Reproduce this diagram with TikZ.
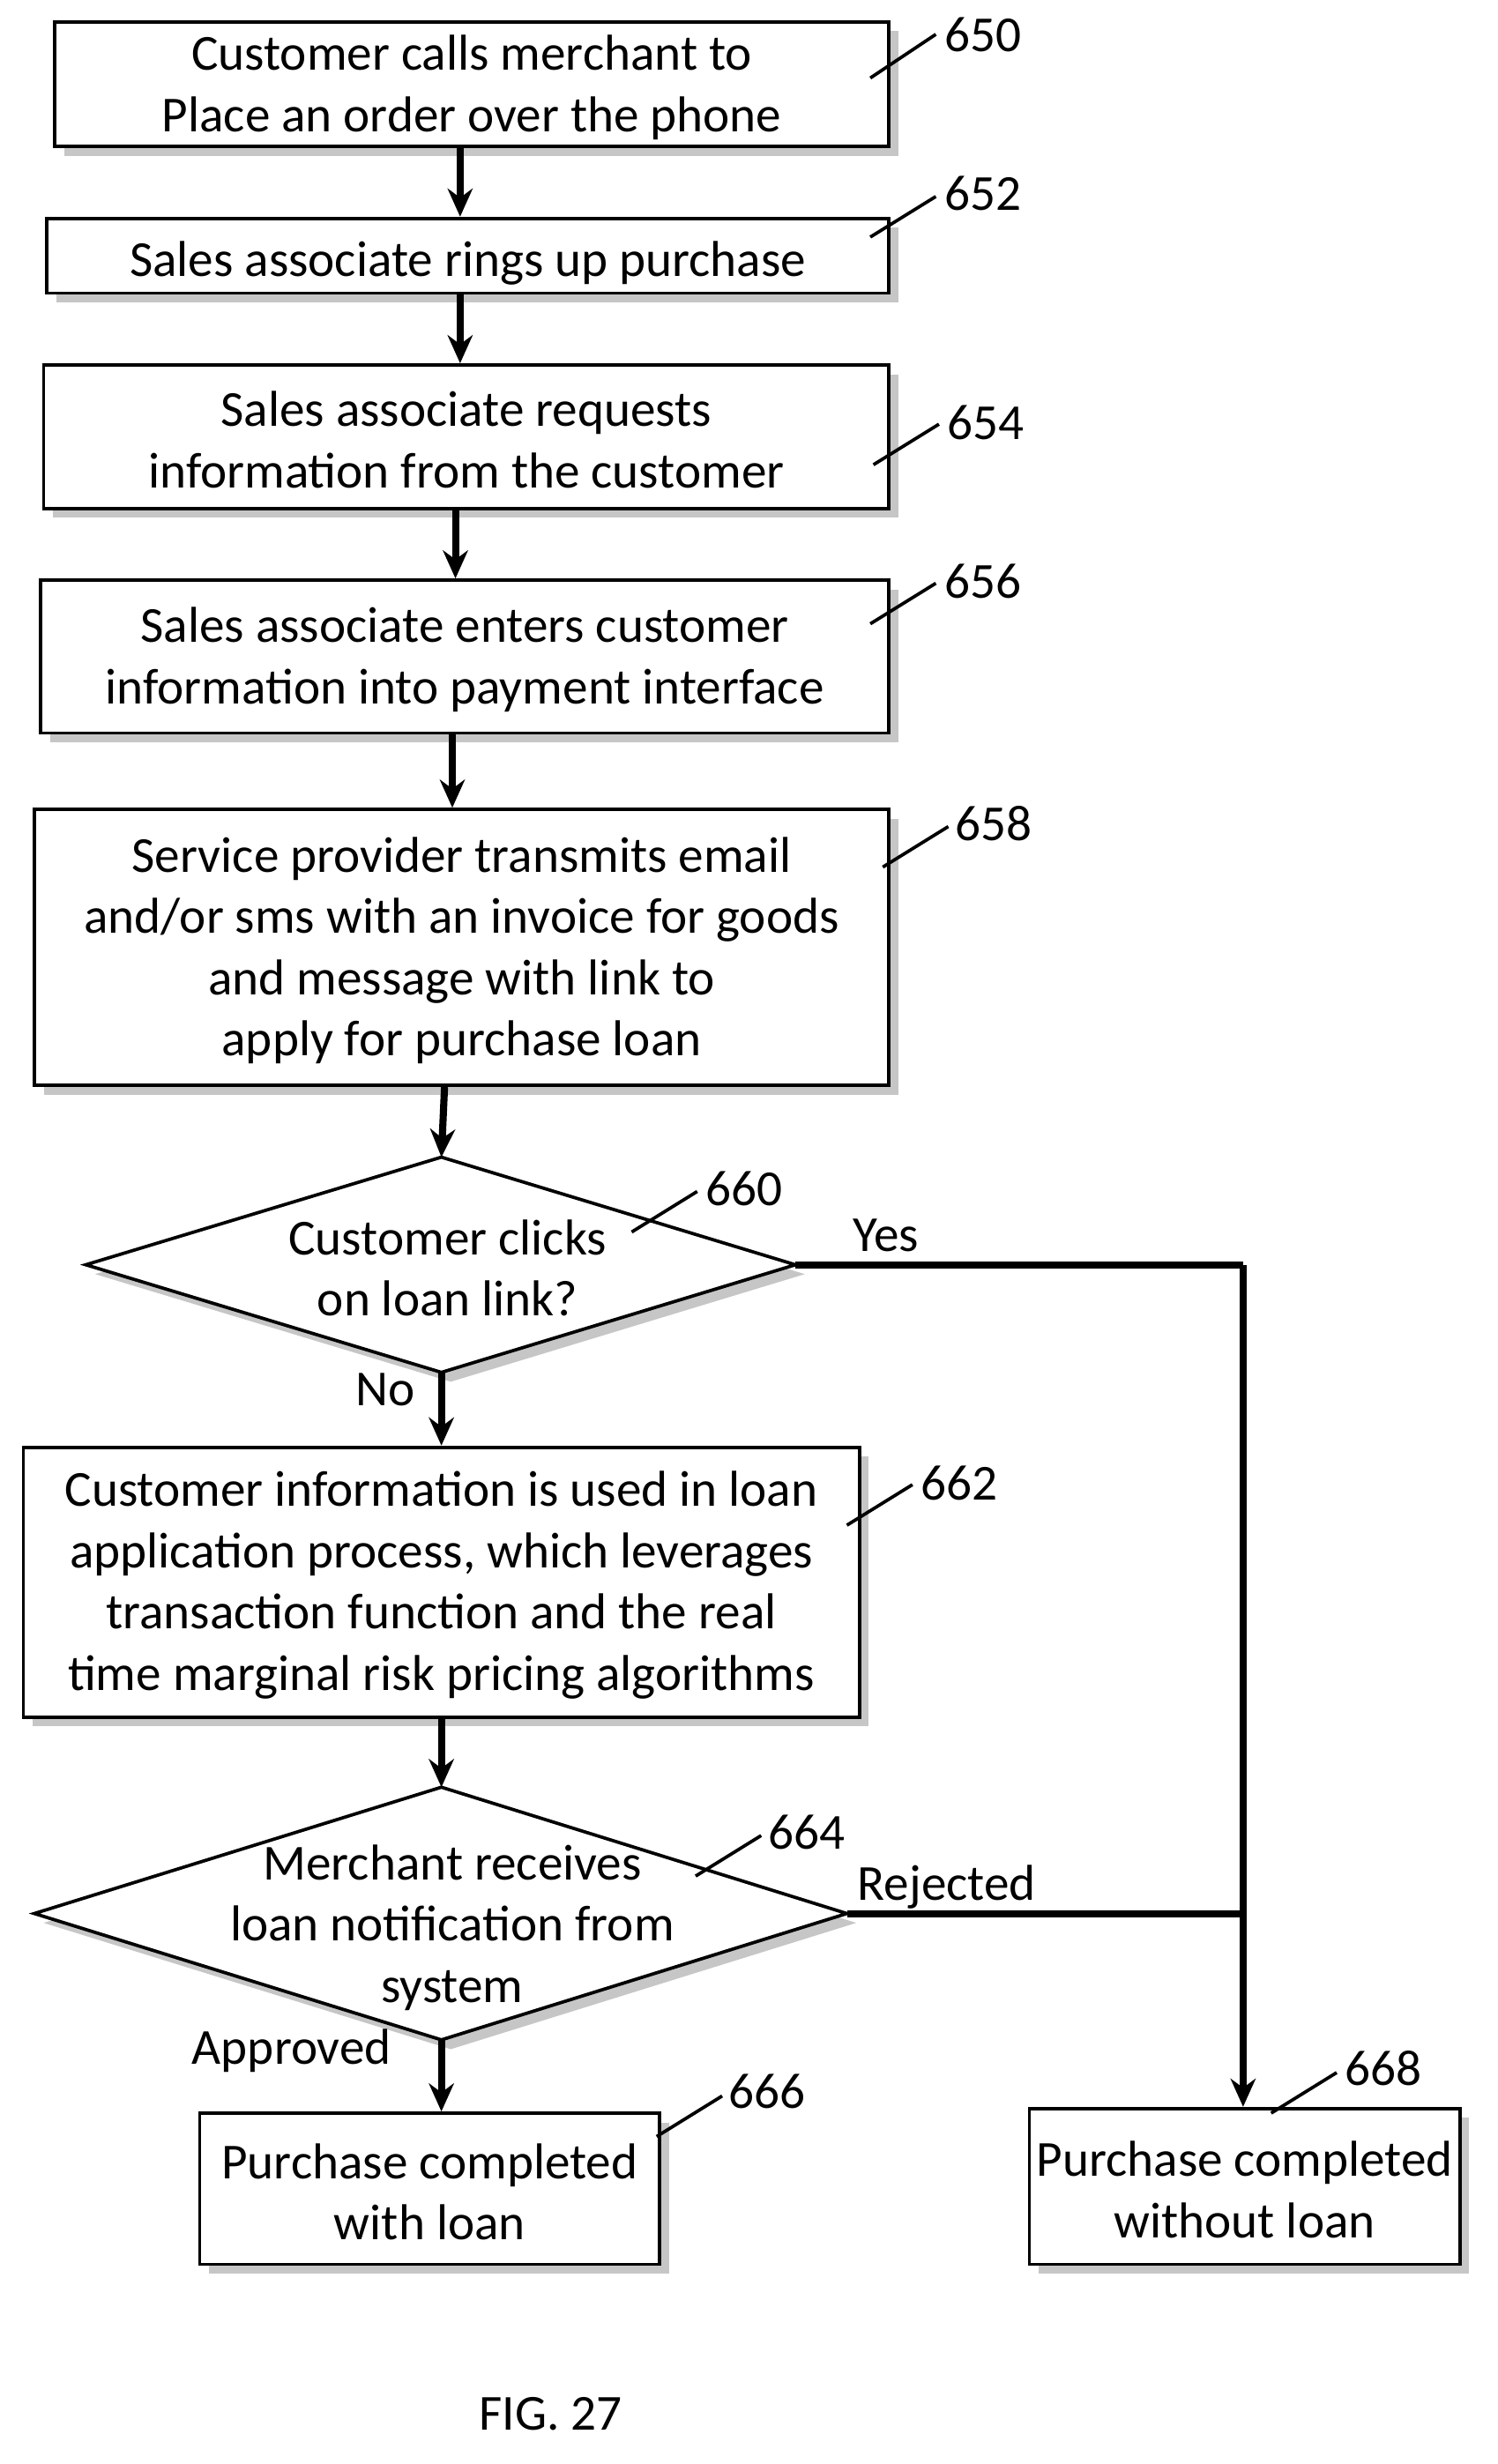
\documentclass[tikz,border=0pt]{standalone}
\usepackage{fontspec}
\setmainfont{Carlito}
\usetikzlibrary{fit,shadows,arrows.meta}
\begin{document}
\begin{tikzpicture}[x=0.05cm,y=-0.05cm,
  font=\fontsize{46}{56}\selectfont,
  box/.style={draw,line width=3pt,inner sep=0pt,fill=white,
    drop shadow={shadow xshift=0.3cm,shadow yshift=-0.3cm,fill=gray!45,opacity=1}},
  txt/.style={align=center},
  ln/.style={line width=6.5pt},
  arr/.style={ln,-{Stealth[length=0.9cm,width=0.8cm]}},
  tick/.style={line width=3pt},
  lab/.style={anchor=west}]
\useasboundingbox (0,0) rectangle (960,1580);
\node[box,fit={(35,14)(570,94)}] (b650) {};
\node[txt] at ([yshift=-0.1cm]b650.center) {Customer calls merchant to\\Place an order over the phone};
\node[box,fit={(30,140)(570,188)}] (b652) {};
\node[txt] at ([yshift=-0.25cm]b652.center) {Sales associate rings up purchase};
\node[box,fit={(28,234)(570,326)}] (b654) {};
\node[txt] at ([yshift=-0.1cm]b654.center) {Sales associate requests\\information from the customer};
\node[box,fit={(26,372)(570,470)}] (b656) {};
\node[txt] at ([yshift=-0.1cm]b656.center) {Sales associate enters customer\\information into payment interface};
\node[box,fit={(22,519)(570,696)}] (b658) {};
\node[txt] at ([yshift=-0.1cm]b658.center) {Service provider transmits email\\and/or sms with an invoice for goods\\and message with link to\\apply for purchase loan};
\coordinate (d1t) at (283,742); \coordinate (d1b) at (283,880);
\coordinate (d1l) at (55,811); \coordinate (d1r) at (510,811);
\fill[gray!45] ([shift={(6,6)}]d1t) -- ([shift={(6,6)}]d1r) -- ([shift={(6,6)}]d1b) -- ([shift={(6,6)}]d1l) -- cycle;
\draw[line width=3pt,fill=white] (d1t) -- (d1r) -- (d1b) -- (d1l) -- cycle;
\node[txt] (t660) at (287,813) {Customer clicks\\on loan link?};
\node[box,fit={(15,928)(551,1101)}] (b662) {};
\node[txt] at ([yshift=-0.1cm]b662.center) {Customer information is used in loan\\application process, which leverages\\transaction function and the real\\time marginal risk pricing algorithms};
\coordinate (d2t) at (283,1146); \coordinate (d2b) at (283,1308);
\coordinate (d2l) at (22,1227); \coordinate (d2r) at (543,1227);
\fill[gray!45] ([shift={(6,6)}]d2t) -- ([shift={(6,6)}]d2r) -- ([shift={(6,6)}]d2b) -- ([shift={(6,6)}]d2l) -- cycle;
\draw[line width=3pt,fill=white] (d2t) -- (d2r) -- (d2b) -- (d2l) -- cycle;
\node[txt] (t664) at (290,1236) {Merchant receives\\loan notification from\\system};
\node[box,fit={(128,1355)(423,1452)}] (b666) {};
\node[txt] at ([yshift=-0.1cm]b666.center) {Purchase completed\\with loan};
\node[box,fit={(660,1352)(936,1452)}] (b668) {};
\node[txt] at ([yshift=-0.1cm]b668.center) {Purchase completed\\without loan};
\coordinate (jr) at (797,811); \coordinate (jr2) at (797,1227);
% arrows
\draw[arr] (b650.south -| 295,0) -- (b652.north -| 295,0);
\draw[arr] (b652.south -| 295,0) -- (b654.north -| 295,0);
\draw[arr] (b654.south -| 292,0) -- (b656.north -| 292,0);
\draw[arr] (b656.south -| 290,0) -- (b658.north -| 290,0);
\draw[arr] (b658.south -| 285,0) -- (d1t);
\draw[arr] (d1b) -- (b662.north -| d1b);
\draw[arr] (b662.south -| d2t) -- (d2t);
\draw[arr] (d2b) -- (b666.north -| d2b);
\draw[ln] (d1r) -- (jr);
\draw[ln] (d2r) -- (jr2);
\draw[arr] (jr) -- (b668.north -| jr);
% labels
\node at (568,792) {Yes};
\node at (247,891) {No};
\node at (607,1210) {Rejected};
\node at (187,1315) {Approved};
\node at (353,1548) {FIG. 27};
% reference numerals
\draw[tick] (558,50) -- (600,22); \node[lab] at (603,22) {650};
\draw[tick] (558,152) -- (600,126); \node[lab] at (603,124) {652};
\draw[tick] (560,298) -- (602,272); \node[lab] at (605,271) {654};
\draw[tick] (558,400) -- (600,374); \node[lab] at (603,373) {656};
\draw[tick] (566,556) -- (608,530); \node[lab] at (610,528) {658};
\draw[tick] (405,790) -- (447,764); \node[lab] at (450,762) {660};
\draw[tick] (543,978) -- (585,952); \node[lab] at (588,951) {662};
\draw[tick] (446,1203) -- (488,1177); \node[lab] at (490,1175) {664};
\draw[tick] (421,1370) -- (463,1344); \node[lab] at (465,1341) {666};
\draw[tick] (815,1355) -- (857,1329); \node[lab] at (860,1326) {668};
\end{tikzpicture}
\end{document}
